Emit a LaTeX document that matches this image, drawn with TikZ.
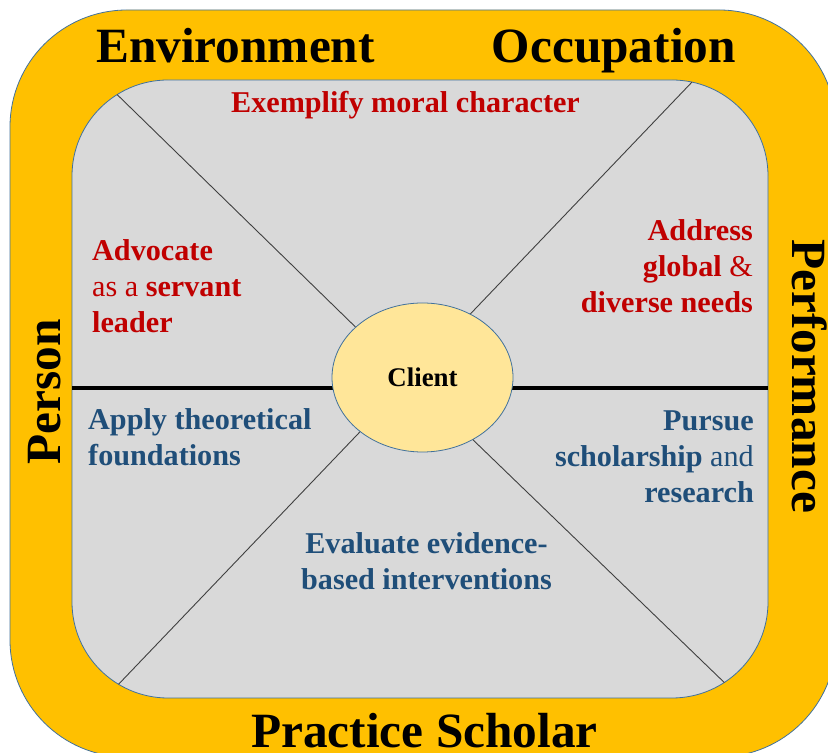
\documentclass[tikz,border=0pt]{standalone}
\usepackage{fontspec}
\setmainfont{Liberation Serif}
\usetikzlibrary{shapes.geometric}
\definecolor{gold}{HTML}{FFC000}
\definecolor{panel}{HTML}{D9D9D9}
\definecolor{edge}{HTML}{41719C}
\definecolor{clientfill}{HTML}{FFE699}
\definecolor{goalred}{HTML}{C00000}
\definecolor{goalblue}{HTML}{1F4E79}
\newcommand{\headfont}{\fontsize{49.5}{55}\selectfont\bfseries}
\newcommand{\goalfont}{\fontsize{30.3}{36.5}\selectfont\bfseries}

\begin{document}
\begin{tikzpicture}[x=1bp,y=1bp,
  frame/.style={draw=edge,line width=0.8bp},
  spoke/.style={draw=black!75,line width=0.9bp},
  heading/.style={font=\headfont,inner sep=0pt},
  goal/.style={font=\goalfont,inner sep=0pt},
  red goal/.style={goal,text=goalred},
  blue goal/.style={goal,text=goalblue}]
\useasboundingbox (0,0) rectangle (828,753);
% the two frames:
\filldraw[frame,fill=gold,rounded corners=117bp] (10,-4) rectangle (836,743);
\filldraw[frame,fill=panel,rounded corners=96bp] (72,55) rectangle (768,673);
% where the spokes meet the inner frame
\coordinate (top left) at ([shift={(122:96)}]168,577);
\coordinate (top right) at ([shift={(78:96)}]672,577);
\coordinate (bottom left) at ([shift={(239:96)}]168,151);
\coordinate (bottom right) at ([shift={(303:96)}]672,151);
\coordinate (left end) at (72,365);
\coordinate (right end) at (768,365);
\draw[line width=4.5bp] (left end) -- (right end);
\node[ellipse,frame,fill=clientfill,minimum width=181bp,minimum height=149bp,
  inner sep=0pt,font=\fontsize{27}{30}\selectfont\bfseries] (client) at (422.5,375.5) {Client};
\foreach \corner/\angle in {top left/143,top right/53,bottom left/221,bottom right/309}
  \draw[spoke] (\corner) -- (client.\angle);
% headings round the frame
\node[heading,anchor=base west] (environment) at (96,690) {Environment};
\node[heading,anchor=base east] (occupation) at (736,690) {Occupation};
\node[heading,anchor=base] (scholar) at (424.5,5) {Practice Scholar};
\node[heading,anchor=base,rotate=90] (person) at (60,361) {Person};
\node[heading,anchor=base,rotate=-90] (performance) at (792,377) {Performance};
% the six goals (base = last line)
\node[red goal,anchor=base] (moral) at (405.5,640) {Exemplify moral character};
\node[red goal,anchor=base west,align=left] (advocate) at (92,420)
  {Advocate\\\textmd{as a} servant\\leader};
\node[red goal,anchor=base east,align=right] (global) at (753,440)
  {Address\\global \textmd{\&}\\diverse needs};
\node[blue goal,anchor=base west,align=left] (theory) at (88,287)
  {Apply theoretical\\foundations};
\node[blue goal,anchor=base east,align=right] (research) at (754,250)
  {Pursue\\scholarship \textmd{and}\\research};
\node[blue goal,anchor=base,align=center] (evidence) at (426.5,163)
  {Evaluate evidence-\\based interventions};
\end{tikzpicture}
\end{document}
